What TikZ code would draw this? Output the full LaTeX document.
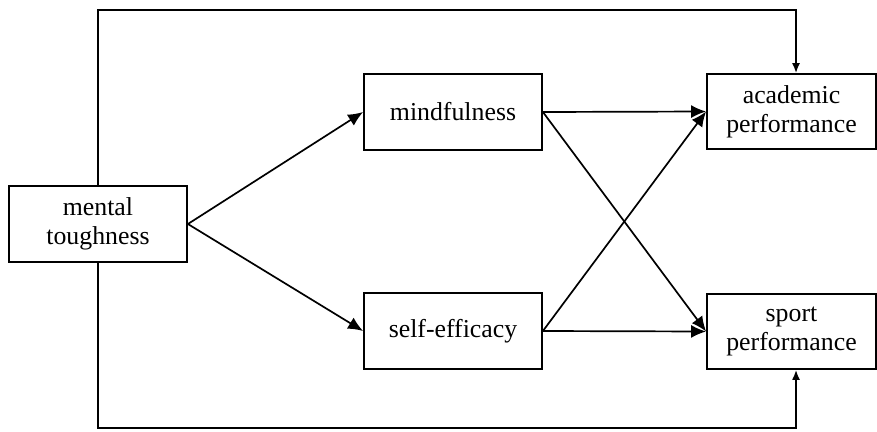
\documentclass[tikz,border=0pt]{standalone}
\usepackage{fontspec}
\setmainfont{Liberation Serif}
\usetikzlibrary{arrows.meta}
\begin{document}
\begin{tikzpicture}[x=1pt,y=-1pt,
  box/.style={draw, line width=1.8pt, inner sep=0pt, align=center,
    font=\fontsize{25.8}{29}\selectfont},
  conn/.style={line width=1.7pt, -{Latex[length=15pt,width=13pt]}},
  loopconn/.style={line width=1.6pt, -{Latex[length=10pt,width=8pt]}}]
\useasboundingbox (0,0) rectangle (877,431);
\node[box, minimum width=178pt, minimum height=76pt] (mt) at (98,224) {mental\\toughness};
\node[box, minimum width=178pt, minimum height=76pt] (mf) at (453,112) {mindfulness};
\node[box, minimum width=178pt, minimum height=76pt] (se) at (453,331) {self-efficacy};
\node[box, minimum width=169pt, minimum height=75pt] (ac) at (791.5,111.5) {academic\\performance};
\node[box, minimum width=169pt, minimum height=75pt] (sp) at (791.5,331.5) {sport\\performance};
\coordinate (tl) at (98,10);
\coordinate (tr) at (796,10);
\coordinate (bl) at (98,428);
\coordinate (br) at (796,428);
\draw[conn] (mt.east) -- (mf.west);
\draw[conn] (mt.east) -- (se.west);
\draw[conn] (mf.east) -- (ac.west);
\draw[conn] (mf.east) -- (sp.west);
\draw[conn] (se.east) -- (ac.west);
\draw[conn] (se.east) -- (sp.west);
\draw[loopconn] (mt.north) -- (tl) -- (tr) -- (tr |- ac.north);
\draw[loopconn] (mt.south) -- (bl) -- (br) -- (br |- sp.south);
\end{tikzpicture}
\end{document}
